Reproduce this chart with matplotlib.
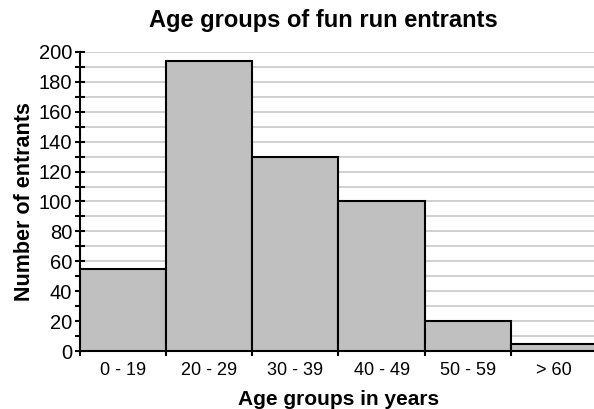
import numpy as np
import matplotlib.pyplot as plt
from matplotlib.ticker import MultipleLocator

plt.rcParams['font.family'] = ['Liberation Sans', 'DejaVu Sans']

# data
age_groups = ['0 - 19', '20 - 29', '30 - 39', '40 - 49', '50 - 59', '> 60']
entrants = [55, 194, 130, 100, 20, 5]

fig = plt.figure(figsize=(5.94, 4.09), dpi=100)
ax = fig.add_axes([0.1347, 0.1418, 0.8703, 0.7311])

x = np.arange(len(age_groups))
ax.bar(x, entrants, width=1.0, align='edge', color='#c0c0c0',
       edgecolor='black', linewidth=1.5, zorder=3)

ax.set_xlim(0, len(age_groups))
ax.set_ylim(0, 200)

ax.yaxis.set_major_locator(MultipleLocator(20))
ax.yaxis.set_minor_locator(MultipleLocator(10))
ax.grid(axis='y', which='both', color='#c8c8c8', linewidth=1.2, zorder=0)

# ticks at bar boundaries, labels in the middle
ax.set_xticks(np.arange(len(age_groups) + 1))
ax.set_xticklabels([])
ax.set_xticks(x + 0.5, minor=True)
ax.set_xticklabels(age_groups, minor=True)
ax.tick_params(axis='x', which='minor', length=0, pad=8, labelsize=13)
ax.tick_params(axis='x', which='major', length=7, width=1.5, direction='inout')
ax.tick_params(axis='y', which='major', length=7, width=1.5, direction='inout',
               labelsize=14.5, pad=2)
ax.tick_params(axis='y', which='minor', length=7, width=1.5, direction='inout')

for s in ['top', 'right']:
    ax.spines[s].set_visible(False)
ax.spines['left'].set_linewidth(1.5)
ax.spines['bottom'].set_linewidth(1.5)

ax.set_ylabel('Number of entrants', fontsize=15.5, fontweight='bold', labelpad=3)
ax.set_xlabel('Age groups in years', fontsize=15, fontweight='bold', labelpad=8)
fig.text(0.544, 0.951, 'Age groups of fun run entrants', fontsize=17,
         fontweight='bold', ha='center', va='center')

fig.savefig('out.png', dpi=100)
